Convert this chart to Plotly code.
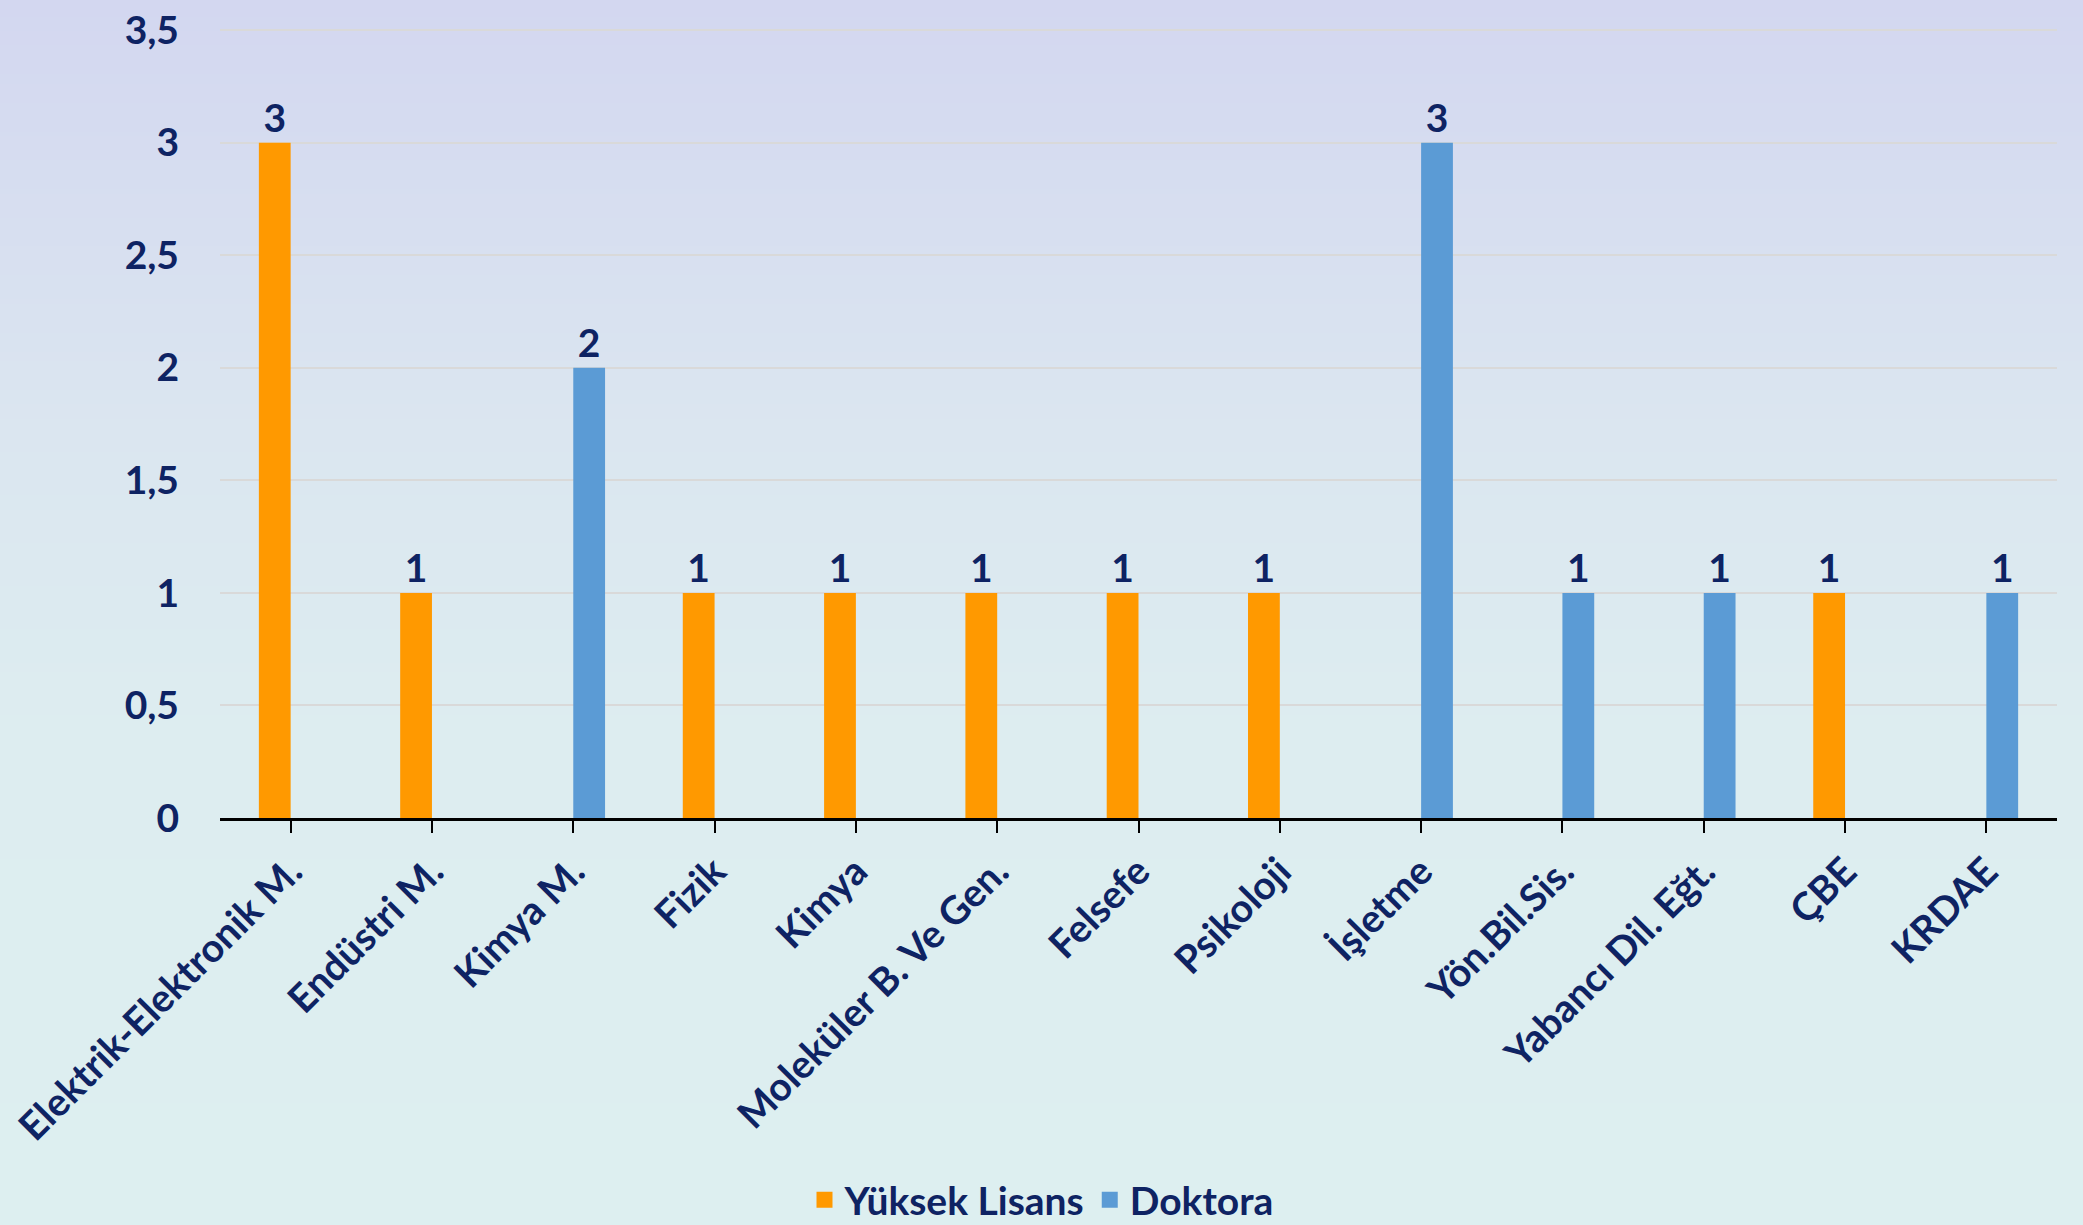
import struct, zlib, base64
import plotly.graph_objects as go

categories = ["Elektrik-Elektronik M.", "Endüstri M.", "Kimya M.", "Fizik", "Kimya",
              "Moleküler B. Ve Gen.", "Felsefe", "Psikoloji", "İşletme", "Yön.Bil.Sis.",
              "Yabancı Dil. Eğt.", "ÇBE", "KRDAE"]
yuksek_lisans = [3, 1, None, 1, 1, 1, 1, 1, None, None, None, 1, None]
doktora = [None, None, 2, None, None, None, None, None, 3, 1, 1, None, 1]
y_ticks = [0, 0.5, 1, 1.5, 2, 2.5, 3, 3.5]
y_tick_text = ["0", "0,5", "1", "1,5", "2", "2,5", "3", "3,5"]

W, H = 2083, 1225
ML, MR, MT, MB = 220, 26, 29, 407
PW, PH = W - ML - MR, H - MT - MB

NAVY = "#0E2363"
FONT = "Lato"
FS = 39
ORANGE = "#FF9900"
BLUE = "#5B9BD5"


def gradient_png(stops, h=256, w=2):
    def col(t):
        for (t0, c0), (t1, c1) in zip(stops[:-1], stops[1:]):
            if t0 <= t <= t1:
                f = (t - t0) / (t1 - t0) if t1 > t0 else 0
                return bytes(int(round(a + (b - a) * f)) for a, b in zip(c0, c1))
        return bytes(stops[-1][1])
    raw = b"".join(b"\x00" + col(i / (h - 1)) * w for i in range(h))

    def chunk(tag, data):
        return struct.pack(">I", len(data)) + tag + data + struct.pack(">I", zlib.crc32(tag + data) & 0xffffffff)
    png = (b"\x89PNG\r\n\x1a\n" + chunk(b"IHDR", struct.pack(">IIBBBBB", w, h, 8, 2, 0, 0, 0))
           + chunk(b"IDAT", zlib.compress(raw)) + chunk(b"IEND", b""))
    return "data:image/png;base64," + base64.b64encode(png).decode()


bg = gradient_png([(0.0, (211, 215, 240)), (0.35, (219, 230, 240)),
                   (0.6, (221, 237, 240)), (1.0, (221, 239, 240))])

tfont = dict(family=FONT, size=FS, color=NAVY, weight="bold")

fig = go.Figure()
fig.add_trace(go.Bar(name="Yüksek Lisans", x=categories, y=yuksek_lisans,
                     marker=dict(color=ORANGE, line=dict(width=0)),
                     text=yuksek_lisans, textposition="outside", cliponaxis=False,
                     textfont=tfont, showlegend=False, legendgroup="yl"))
fig.add_trace(go.Bar(name="Doktora", x=categories, y=doktora,
                     marker=dict(color=BLUE, line=dict(width=0)),
                     text=doktora, textposition="outside", cliponaxis=False,
                     textfont=tfont, showlegend=False, legendgroup="dk"))
# legend entries with larger square swatches
fig.add_trace(go.Scatter(name="Yüksek Lisans", x=[None], y=[None], mode="markers",
                         marker=dict(symbol="square", size=16, color=ORANGE),
                         legendgroup="yl", hoverinfo="skip"))
fig.add_trace(go.Scatter(name="Doktora", x=[None], y=[None], mode="markers",
                         marker=dict(symbol="square", size=16, color=BLUE),
                         legendgroup="dk", hoverinfo="skip"))

fig.update_layout(
    width=W, height=H,
    margin=dict(l=ML, r=MR, t=MT, b=MB, pad=0, autoexpand=False),
    paper_bgcolor="#DDEDF0", plot_bgcolor="rgba(0,0,0,0)",
    barmode="group", bargap=0.55, bargroupgap=0,
    font=tfont,
    showlegend=True,
    legend=dict(orientation="h", x=(W / 2 - ML) / PW, xanchor="center",
                y=-(1200 - MT - PH) / PH, yanchor="middle",
                font=tfont, bgcolor="rgba(0,0,0,0)", itemsizing="trace",
                itemwidth=30, tracegroupgap=0),
    images=[dict(source=bg, xref="paper", yref="paper", x=-ML / PW, y=1 + MT / PH,
                 sizex=W / PW, sizey=H / PH, xanchor="left", yanchor="top",
                 sizing="stretch", layer="below")],
)
fig.update_xaxes(showline=True, linecolor="black", linewidth=3, ticks="outside",
                 ticklen=12, tickwidth=2, tickcolor="black", tickangle=-45,
                 tickfont=tfont, showgrid=False, zeroline=False)
fig.update_yaxes(range=[0, 3.505], tickvals=y_ticks, ticktext=y_tick_text,
                 showgrid=True, gridcolor="#D9D9D9", gridwidth=2, zeroline=False,
                 showline=False, ticks="", ticklabelstandoff=40, tickfont=tfont,
                 ticklabeloverflow="allow")

fig.write_html("out.html", config={"displayModeBar": False},
               post_script="document.body.style.margin='0';document.body.style.overflow='hidden';")
